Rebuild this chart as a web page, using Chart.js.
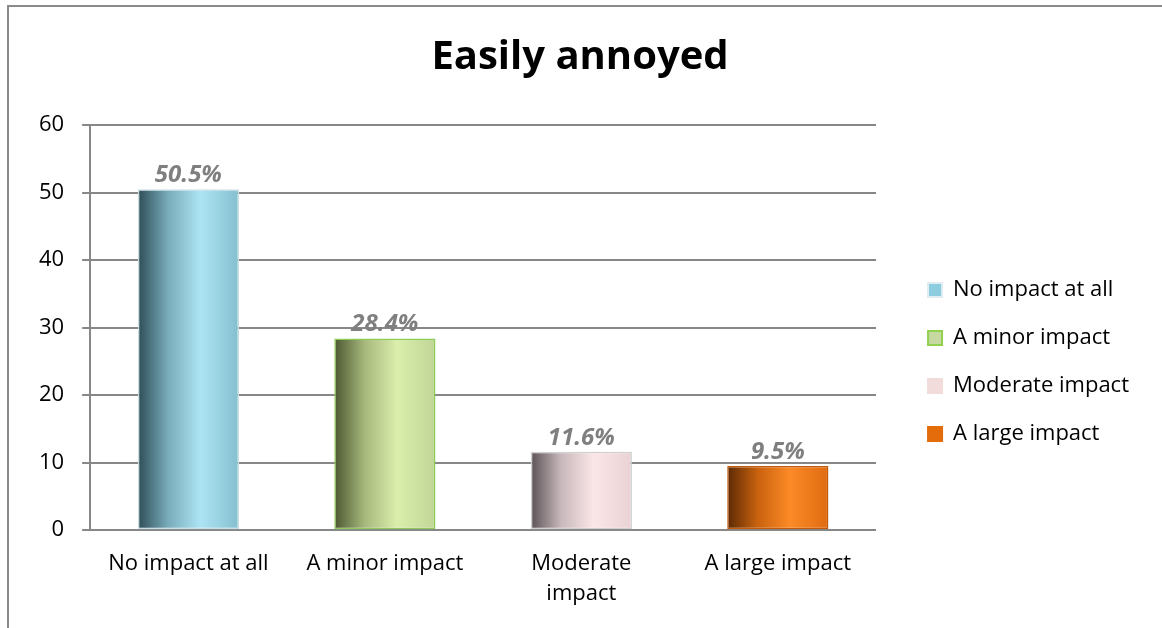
<!DOCTYPE html>
<html>
<head>
<meta charset="utf-8">
<script src="https://cdn.jsdelivr.net/npm/chart.js@4.4.1/dist/chart.umd.min.js"></script>
<style>
  html, body { margin: 0; padding: 0; background: #fff; }
  #wrap { width: 1162px; height: 628px; }
</style>
</head>
<body>
<div id="wrap"><canvas id="grafico" width="1162" height="628"></canvas></div>
<script>
const categorias = ['No impact at all', 'A minor impact', ['Moderate', 'impact'], 'A large impact'];
const nomesLegenda = ['No impact at all', 'A minor impact', 'Moderate impact', 'A large impact'];
const valores = [50.5, 28.4, 11.6, 9.5];
const rotulos = ['50.5%', '28.4%', '11.6%', '9.5%'];

// gradient stops per bar: left, 30%, 60%, right
const paletas = [
  ['#2d4d57', '#79acbb', '#ade4f3', '#84bfcf'],
  ['#4b5831', '#a7b87c', '#dbeeab', '#c0d697'],
  ['#5a5255', '#c8b8bb', '#fbe6e7', '#ead2d4'],
  ['#5a2904', '#c9620e', '#fc8a26', '#df6b11']
];
const bordas = ['#c9dde4', '#8fcb5a', '#cfcfcf', '#c0590a'];
const coresLegenda = ['#8ccde0', '#c6d9a0', '#f2dcdb', '#e46c0a'];
const bordasLegenda = ['#e0ecf0', '#92d050', '#f2dcdb', '#e46c0a'];

const fonte = "'Open Sans', 'Noto Sans', sans-serif";

function gradiente(context) {
  const chart = context.chart;
  const i = context.dataIndex;
  if (!chart.chartArea || i === undefined) return paletas[0][2];
  const xs = chart.scales.x;
  const centro = xs.getPixelForValue(i);
  const meia = (xs.width / categorias.length) * 0.515 / 2;
  const g = chart.ctx.createLinearGradient(centro - meia, 0, centro + meia, 0);
  const p = paletas[i];
  g.addColorStop(0, p[0]);
  g.addColorStop(0.3, p[1]);
  g.addColorStop(0.62, p[2]);
  g.addColorStop(1, p[3]);
  return g;
}

const moldura = {
  id: 'moldura',
  beforeDraw(chart) {
    const c = chart.ctx;
    c.save();
    c.strokeStyle = '#8a8a8a';
    c.lineWidth = 2;
    c.strokeRect(8, 6, 1200, 700);
    c.restore();
  }
};

const rotulosDados = {
  id: 'rotulosDados',
  afterDatasetsDraw(chart) {
    const c = chart.ctx;
    const meta = chart.getDatasetMeta(0);
    c.save();
    c.font = "italic bold 24px " + fonte;
    c.fillStyle = '#7f7f7f';
    c.textAlign = 'center';
    c.textBaseline = 'alphabetic';
    meta.data.forEach(function (bar, i) {
      c.fillText(rotulos[i], bar.x, bar.y - 7);
    });
    c.restore();
  }
};

const ctx = document.getElementById('grafico').getContext('2d');

const data = {
  labels: categorias,
  datasets: [
    {
      label: 'Easily annoyed',
      data: valores,
      backgroundColor: gradiente,
      borderColor: bordas,
      borderWidth: 1.5,
      borderSkipped: false,
      categoryPercentage: 1,
      barPercentage: 0.515
    }
  ]
};

const config = {
  type: 'bar',
  data: data,
  options: {
    responsive: false,
    animation: false,
    layout: { padding: { left: 21, right: 23, top: 0, bottom: 0 } },
    scales: {
      x: {
        grid: { display: false, drawTicks: false },
        border: { display: false },
        ticks: { color: '#000', font: { family: fonte, size: 22, lineHeight: 1.36 }, padding: 19, maxRotation: 0, autoSkip: false }
      },
      y: {
        min: 0,
        max: 60,
        ticks: { stepSize: 10, color: '#000', font: { family: fonte, size: 22 }, padding: 18 },
        grid: { color: '#878787', lineWidth: 2, tickLength: 8, tickColor: '#878787' },
        border: { display: true, color: '#878787', width: 2 }
      },
      espaco: {
        type: 'linear',
        position: 'right',
        display: true,
        grid: { display: false },
        ticks: { display: false },
        border: { display: false },
        afterFit(scale) { scale.width = 26; }
      }
    },
    plugins: {
      title: {
        display: true,
        text: 'Easily annoyed',
        color: '#000',
        font: { family: fonte, size: 40, weight: 'bold' },
        padding: { top: 34, bottom: 43 }
      },
      legend: {
        position: 'right',
        align: 'center',
        maxWidth: 300,
        title: { display: true, text: ' ', font: { size: 10 }, padding: { top: 84, bottom: 0 } },
        labels: {
          boxWidth: 14,
          boxHeight: 14,
          padding: 26,
          color: '#000',
          font: { family: fonte, size: 22 },
          generateLabels() {
            return nomesLegenda.map(function (nome, i) {
              return {
                text: nome,
                fillStyle: coresLegenda[i],
                strokeStyle: bordasLegenda[i],
                lineWidth: 2,
                fontColor: '#000',
                hidden: false,
                index: i,
                datasetIndex: 0
              };
            });
          }
        }
      },
      tooltip: { enabled: false }
    }
  },
  plugins: [moldura, rotulosDados]
};

const myChart = new Chart(ctx, config);
</script>
</body>
</html>
